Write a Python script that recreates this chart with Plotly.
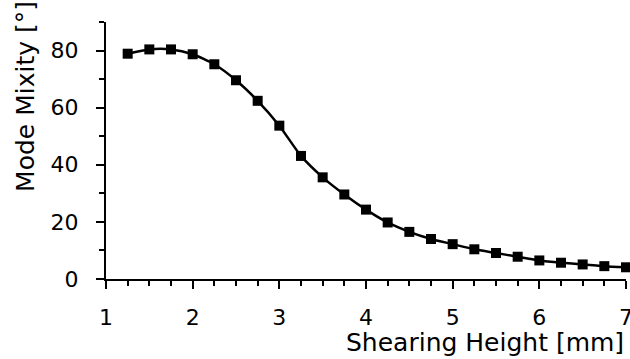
import plotly.graph_objects as go

shearing_height = [1.25, 1.5, 1.75, 2.0, 2.25, 2.5, 2.75, 3.0, 3.25, 3.5, 3.75, 4.0,
                   4.25, 4.5, 4.75, 5.0, 5.25, 5.5, 5.75, 6.0, 6.25, 6.5, 6.75, 7.0]
mode_mixity = [78.9, 80.4, 80.4, 78.7, 75.2, 69.6, 62.4, 53.7, 43.1, 35.6, 29.6, 24.3,
               19.8, 16.5, 14.0, 12.2, 10.4, 9.1, 7.8, 6.5, 5.7, 5.1, 4.5, 4.1]

x_ticks = [1, 2, 3, 4, 5, 6, 7]
y_ticks = [0, 20, 40, 60, 80]

font = "DejaVu Sans, Verdana, sans-serif"

fig = go.Figure(go.Scatter(
    x=shearing_height, y=mode_mixity,
    mode='lines+markers',
    line=dict(color='black', width=2.5, shape='spline', smoothing=0.6),
    marker=dict(symbol='square', size=10, color='black'),
    showlegend=False,
    cliponaxis=False
))

fig.update_layout(
    width=630, height=359,
    margin=dict(l=106, r=4, t=22, b=80, autoexpand=False),
    paper_bgcolor='white', plot_bgcolor='white',
    font=dict(family=font, color='black', size=22),
    xaxis=dict(range=[1, 7], tickvals=x_ticks, showgrid=False, zeroline=False,
               showline=True, linecolor='black', linewidth=2,
               ticks='outside', ticklen=8, tickwidth=1.5, tickcolor='black',
               minor=dict(dtick=0.25, ticks='outside', ticklen=5, tickcolor='black', tickwidth=1.5),
               tickfont=dict(size=22), ticklabelstandoff=10, ticklabeloverflow='allow',
               automargin=False),
    yaxis=dict(range=[0, 90], tickvals=y_ticks, showgrid=False, zeroline=False,
               showline=True, linecolor='black', linewidth=2,
               ticks='outside', ticklen=8, tickwidth=1.5, tickcolor='black',
               minor=dict(dtick=10, ticks='outside', ticklen=5, tickcolor='black', tickwidth=1.5),
               tickfont=dict(size=22), ticklabelstandoff=13, automargin=False),
)

# axis titles placed like the original (x title right aligned, y title high)
fig.add_annotation(text="Shearing Height [mm]", xref='paper', yref='paper',
                   x=1, y=-0.31, xanchor='right', yanchor='bottom', showarrow=False,
                   font=dict(size=25))
fig.add_annotation(text="Mode Mixity [°]", xref='paper', yref='paper',
                   x=-0.155, y=0.71, xanchor='center', yanchor='middle', textangle=-90,
                   showarrow=False, font=dict(size=25))

fig.write_html("out.html", config={'displayModeBar': False},
               post_script="document.body.style.margin='0';document.body.style.overflow='hidden';")
